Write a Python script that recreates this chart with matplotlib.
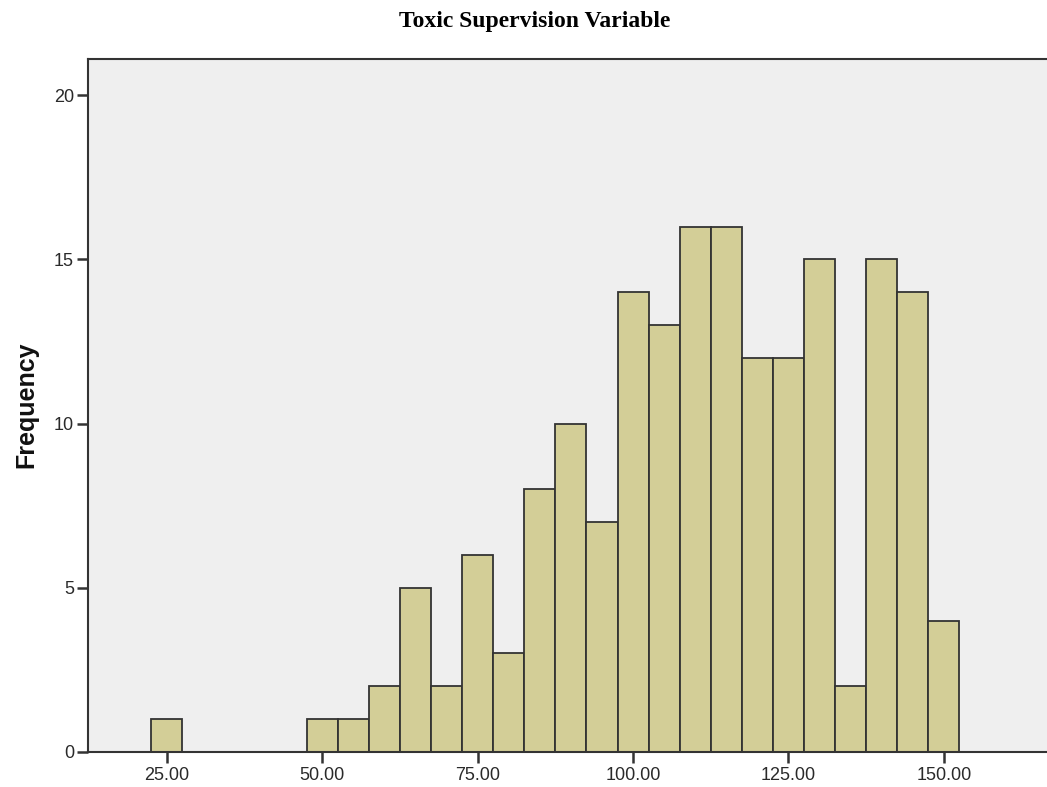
import matplotlib.pyplot as plt

# centros dos intervalos (largura 5) e frequencias
centros = [25, 50, 55, 60, 65, 70, 75, 80, 85, 90, 95, 100, 105, 110, 115,
           120, 125, 130, 135, 140, 145, 150]
frequencias = [1, 1, 1, 2, 5, 2, 6, 3, 8, 10, 7, 14, 13, 16, 16,
               12, 12, 15, 2, 15, 14, 4]
ticks_x = [25, 50, 75, 100, 125, 150]
ticks_y = [0, 5, 10, 15, 20]

fig = plt.figure(figsize=(10.47, 7.87), dpi=100)
ax = fig.add_axes([88 / 1047, 1 - 752 / 787, 1 - 88 / 1047, (752 - 59) / 787])
ax.set_facecolor('#efefef')

ax.bar(centros, frequencias, width=5, color='#d3ce97', edgecolor='#333333',
       linewidth=1.3, zorder=2)

ax.set_xlim(12.3, 166.6)
ax.set_ylim(0, 21.1)
ax.set_xticks(ticks_x)
ax.set_xticklabels([f'{t:.2f}' for t in ticks_x])
ax.set_yticks(ticks_y)

for s in ['left', 'top', 'bottom']:
    ax.spines[s].set_color('#333333')
    ax.spines[s].set_linewidth(1.5)
ax.spines['right'].set_visible(False)

ax.tick_params(axis='both', direction='out', length=8, width=1.8,
               color='#333333', labelcolor='#2a2a2a', labelsize=13,
               labelfontfamily='Liberation Sans')
ax.tick_params(axis='y', pad=2)
ax.tick_params(axis='x', pad=3)

fig.text(535 / 1047, 1 - 22 / 787, 'Toxic Supervision Variable',
         ha='center', va='center', fontsize=17, fontweight='bold',
         family='Liberation Serif')
fig.text(26 / 1047, 1 - 405 / 787, 'Frequency', rotation=90,
         ha='center', va='center', fontsize=18, fontweight='bold',
         family='Liberation Sans', color='#111111')

fig.savefig('out.png', dpi=100)
